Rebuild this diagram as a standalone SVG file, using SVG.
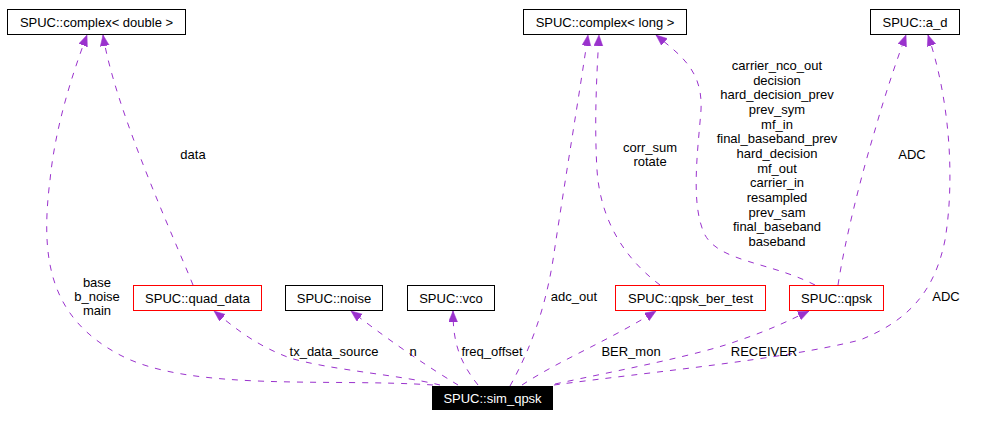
<svg xmlns="http://www.w3.org/2000/svg" width="988" height="425" viewBox="0 0 988 425">
<style>
text{font-family:"Liberation Sans",Arial,sans-serif;font-size:13px;fill:#000;text-anchor:middle}
.box{fill:#fff;stroke:#000;stroke-width:1}
.red{fill:#fff;stroke:#ff0000;stroke-width:1}
.edge{fill:none;stroke:#9a32cd;stroke-width:1;stroke-dasharray:6,7;marker-end:url(#arr)}
</style>
<defs>
<marker id="arr" markerUnits="userSpaceOnUse" markerWidth="12" markerHeight="10" refX="11" refY="4.5" orient="auto">
<path d="M0,0 L11,4.5 L0,9 z" fill="#9a32cd" stroke="#9a32cd" stroke-width="0.5"/>
</marker>
</defs>
<rect width="988" height="425" fill="#fff"/>
<g id="connectors">
<path class="edge" d="M433,385 C 330,378 190,392 120,355 C 50,318 40,260 50,180 C 55,130 70,80 87,35"/>
<path class="edge" d="M193,285 C 175,240 115,110 103,35"/>
<path class="edge" d="M440,385 C 400,375 330,370 290,358 C 255,345 235,328 214,311"/>
<path class="edge" d="M458,385 C 430,368 395,345 351,311"/>
<path class="edge" d="M478,385 C 458,360 453,340 453,311"/>
<path class="edge" d="M510,386 C 530,350 545,310 553,260 C 565,180 580,90 588,35"/>
<path class="edge" d="M660,285 C 620,255 600,215 597,170 C 594,120 597,70 599,35"/>
<path class="edge" d="M815,285 C 770,262 720,262 705,235 C 690,205 698,150 701,110 C 703,70 680,55 656,35"/>
<path class="edge" d="M838,285 C 845,240 860,180 875,130 C 885,95 895,65 906,35"/>
<path class="edge" d="M554,385 C 650,372 780,360 860,340 C 910,320 935,290 945,240 C 955,180 950,100 928,35"/>
<path class="edge" d="M522,385 C 560,360 610,340 656,311"/>
<path class="edge" d="M555,384 C 620,370 700,355 740,340 C 770,330 790,320 809,311"/>
<text x="97" y="287">base</text>
<text x="97" y="301">b_noise</text>
<text x="97" y="315">main</text>
<text x="193" y="159">data</text>
<text x="334" y="356">tx_data_source</text>
<text x="413" y="356">n</text>
<text x="492" y="356">freq_offset</text>
<text x="574" y="301">adc_out</text>
<text x="650" y="152">corr_sum</text>
<text x="650" y="166">rotate</text>
<text x="777" y="70">carrier_nco_out</text>
<text x="777" y="85">decision</text>
<text x="777" y="99">hard_decision_prev</text>
<text x="777" y="114">prev_sym</text>
<text x="777" y="129">mf_in</text>
<text x="777" y="143">final_baseband_prev</text>
<text x="777" y="158">hard_decision</text>
<text x="777" y="173">mf_out</text>
<text x="777" y="187">carrier_in</text>
<text x="777" y="202">resampled</text>
<text x="777" y="217">prev_sam</text>
<text x="777" y="231">final_baseband</text>
<text x="777" y="246">baseband</text>
<text x="912" y="159">ADC</text>
<text x="946" y="301">ADC</text>
<text x="631" y="356">BER_mon</text>
<text x="764" y="356">RECEIVER</text>
</g>
<g id="complex_double">
<rect class="box" x="7.5" y="9.5" width="178" height="25"/>
<text x="96.5" y="27">SPUC::complex&lt; double &gt;</text>
</g>
<g id="complex_long">
<rect class="box" x="523.5" y="9.5" width="163" height="25"/>
<text x="605" y="27">SPUC::complex&lt; long &gt;</text>
</g>
<g id="a_d">
<rect class="box" x="870.5" y="9.5" width="89" height="25"/>
<text x="915" y="27">SPUC::a_d</text>
</g>
<g id="quad_data">
<rect class="red" x="133.5" y="285.5" width="128" height="25"/>
<text x="197.5" y="303">SPUC::quad_data</text>
</g>
<g id="noise">
<rect class="box" x="285.5" y="285.5" width="97" height="25"/>
<text x="334" y="303">SPUC::noise</text>
</g>
<g id="vco">
<rect class="box" x="407.5" y="285.5" width="87" height="25"/>
<text x="451" y="303">SPUC::vco</text>
</g>
<g id="qpsk_ber_test">
<rect class="red" x="615.5" y="285.5" width="150" height="25"/>
<text x="690.5" y="303">SPUC::qpsk_ber_test</text>
</g>
<g id="qpsk">
<rect class="red" x="789.5" y="285.5" width="94" height="25"/>
<text x="836.5" y="303">SPUC::qpsk</text>
</g>
<g id="sim_qpsk">
<rect x="432" y="386" width="121" height="24" fill="#000"/>
<text x="492.5" y="403" style="fill:#fff">SPUC::sim_qpsk</text>
</g>
</svg>
